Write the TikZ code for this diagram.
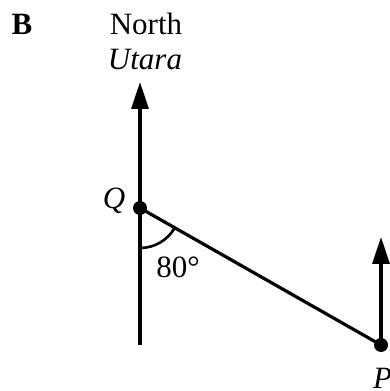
\documentclass[tikz,border=0pt]{standalone}
\usepackage{fontspec}
\setmainfont{Liberation Serif}
\usetikzlibrary{arrows.meta,calc}
\begin{document}
\begin{tikzpicture}[x=1pt,y=1pt,
  lbl/.style={inner sep=0pt,font=\fontsize{31}{36}\selectfont},
  north/.style={line width=3.2pt,-{Triangle[length=27pt,width=17pt]}},
  seg/.style={line width=3.2pt},
  dot/.style={circle,fill=black,inner sep=0pt,minimum size=14pt}]
\useasboundingbox (0,0) rectangle (390,391);
\clip (0,0) rectangle (390,391);
% points
\node[dot] (Q) at (140,183) {};
\node[dot] (P) at (381,46) {};
\coordinate (Qtip) at (140,309);
\coordinate (Qbot) at (140,46);
\coordinate (Ptip) at (381,154);
% lines
\draw[seg] (Q.center) -- (Qbot);
\draw[north] (Q.center) -- (Qtip);
\draw[north] (P.center) -- (Ptip);
\draw[seg] (Q.center) -- (P.center);
% angle
\draw[line width=2.6pt] ($(Q.center)+(0,-40)$) arc[start angle=-90,end angle=-29.6,radius=40];
% labels
\node[lbl,font=\fontsize{31}{36}\selectfont\bfseries,anchor=base] (B) at (22,356) {B};
\node[lbl,anchor=base] (north) at (146,356) {North};
\node[lbl,anchor=base,font=\fontsize{31}{36}\selectfont\itshape] (utara) at (145,321) {Utara};
\node[lbl,anchor=base,font=\fontsize{31}{36}\selectfont\itshape] (Qlbl) at (114,182) {Q};
\node[lbl,anchor=base] (ang) at (178,113) {80°};
\node[lbl,anchor=base west,font=\fontsize{31}{36}\selectfont\itshape] (Plbl) at (373,2) {P};
\end{tikzpicture}
\end{document}
